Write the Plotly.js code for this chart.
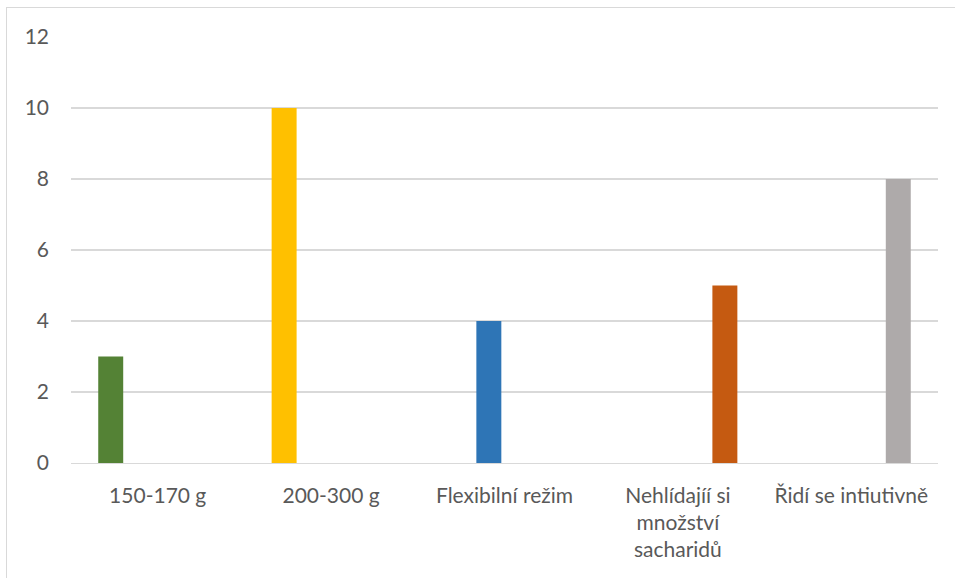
<!DOCTYPE html>
<html>
<head>
<meta charset="utf-8">
<script src="https://cdn.plot.ly/plotly-3.0.1.min.js"></script>
<style>
  html, body { margin: 0; padding: 0; background: #ffffff; overflow: hidden; }
  #frame { position: absolute; left: 6px; top: 7px; width: 980px; height: 600px; border: 1px solid #d9d9d9; box-sizing: border-box; }
  #chart { position: absolute; left: 0; top: 0; width: 955px; height: 578px; }
</style>
</head>
<body>
<div id="frame"></div>
<div id="chart"></div>
<script>
// Categories (carbohydrate intake groups) and their counts
const categories = ["150-170 g", "200-300 g", "Flexibilní režim", "Nehlídajíí si<br>množství<br>sacharidů", "Řidí se intiutivně"];
const counts = [3, 10, 4, 5, 8];
const barColors = ["#548235", "#FFC000", "#2E75B6", "#C55A11", "#AEAAAA"];
// Which slot of the four-slot group each category's bar sits in
const slotOfCategory = [0, 0, 1, 3, 3];
const yTicks = [0, 2, 4, 6, 8, 10, 12];

const slotCount = 4;
const slotWidth = 0.1806;      // category units
const barWidth = 0.144;        // category units

const traces = [];
for (let s = 0; s < slotCount; s++) {
  const xs = [], ys = [], cs = [];
  categories.forEach((c, i) => {
    if (slotOfCategory[i] === s) { xs.push(c); ys.push(counts[i]); cs.push(barColors[i]); }
  });
  if (!xs.length) continue;
  const center = (s - (slotCount - 1) / 2) * slotWidth;
  traces.push({
    type: "bar",
    x: xs,
    y: ys,
    width: barWidth,
    offset: center - barWidth / 2,
    marker: { color: cs, line: { width: 0 } },
    hoverinfo: "x+y",
    showlegend: false
  });
}

const layout = {
  width: 955,
  height: 578,
  margin: { l: 71, r: 17, t: 37, b: 115 },
  paper_bgcolor: "rgba(0,0,0,0)",
  plot_bgcolor: "rgba(0,0,0,0)",
  barmode: "overlay",
  font: { family: "Lato, 'Open Sans', sans-serif", size: 21, color: "#595959" },
  xaxis: {
    type: "category",
    categoryorder: "array",
    categoryarray: categories,
    range: [-0.5, categories.length - 0.5],
    showgrid: false,
    showline: true,
    linecolor: "#d9d9d9",
    linewidth: 1.3,
    ticks: "",
    ticklabelstandoff: 13,
    tickfont: { size: 21, color: "#595959" },
    zeroline: false
  },
  yaxis: {
    range: [0, 12],
    tickvals: yTicks,
    ticktext: yTicks.map(String),
    showgrid: true,
    gridcolor: "#d9d9d9",
    gridwidth: 1.3,
    zeroline: false,
    showline: false,
    ticks: "",
    ticklabelstandoff: 21,
    tickfont: { size: 21, color: "#595959" }
  }
};

Plotly.newPlot("chart", traces, layout, { displayModeBar: false, staticPlot: true });
</script>
</body>
</html>
